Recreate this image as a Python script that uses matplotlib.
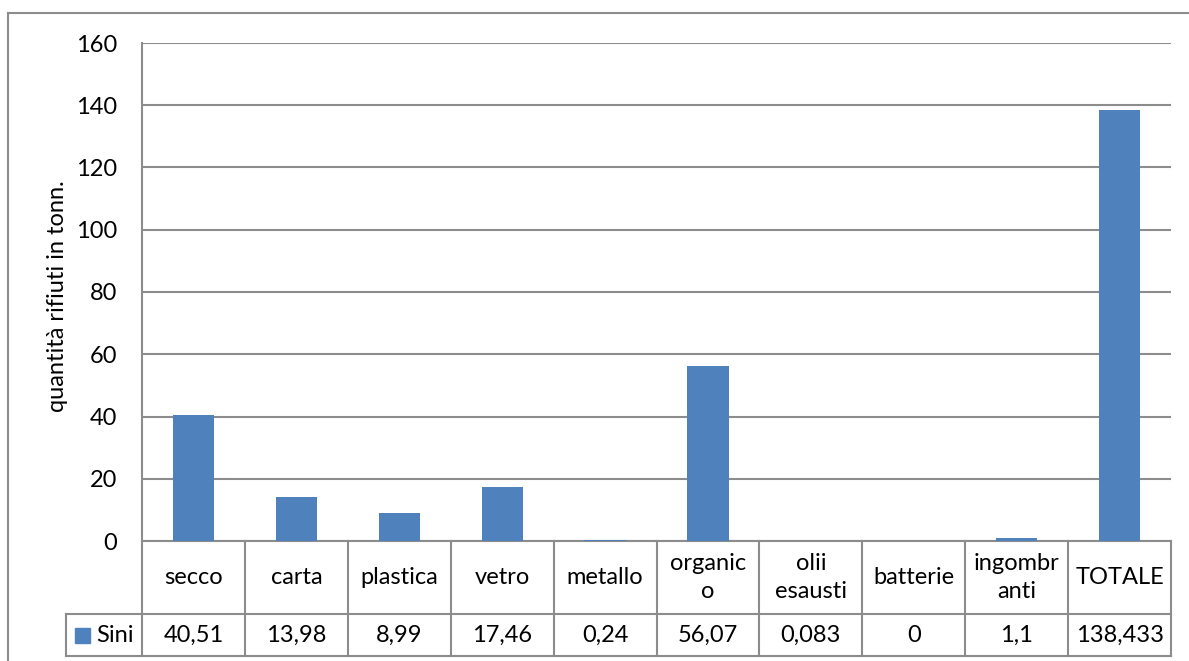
import matplotlib
matplotlib.use("Agg")
import matplotlib.pyplot as plt
from matplotlib.lines import Line2D
from matplotlib.patches import Rectangle
import matplotlib.transforms as mtransforms

categories = ["secco", "carta", "plastica", "vetro", "metallo", "organic\no",
              "olii\nesausti", "batterie", "ingombr\nanti", "TOTALE"]
values = [40.51, 13.98, 8.99, 17.46, 0.24, 56.07, 0.083, 0, 1.1, 138.433]
value_labels = ["40,51", "13,98", "8,99", "17,46", "0,24", "56,07", "0,083", "0", "1,1", "138,433"]
series_name = "Sini"
y_ticks = [0, 20, 40, 60, 80, 100, 120, 140, 160]
y_label = "quantità rifiuti in tonn."

BAR = "#4F81BD"
GRID = "#8C8C8C"
FONT = "Lato"
FS = 17
plt.rcParams["font.family"] = [FONT, "DejaVu Sans"]

W, H = 1189, 661
fig = plt.figure(figsize=(W / 100, H / 100), dpi=100)

left, right, top, bottom = 142, 1171, 43, 541
ax = fig.add_axes([left / W, 1 - bottom / H, (right - left) / W, (bottom - top) / H])
x = list(range(len(categories)))
ax.bar(x, values, width=0.4, color=BAR, zorder=3)
ax.set_xlim(-0.5, len(categories) - 0.5)
ax.set_ylim(0, 160)
ax.set_yticks(y_ticks)
ax.set_yticklabels([str(t) for t in y_ticks], fontsize=FS)
ax.tick_params(axis="y", length=0, pad=18)
ax.set_xticks([])
for t in y_ticks:
    ax.axhline(t, color=GRID, lw=1.5, zorder=1)
for s in ["top", "right", "bottom"]:
    ax.spines[s].set_visible(False)
ax.spines["left"].set_color(GRID)
ax.spines["left"].set_linewidth(1.5)

# data table below the axis
trans = mtransforms.blended_transform_factory(ax.transData, ax.transAxes)
ph = bottom - top
y0 = 0.0
y1 = -(614 - bottom) / ph
y2 = -(656 - bottom) / ph
cat_px = (right - left) / len(categories)
leg_left = -0.5 - (142 - 66) / cat_px
n = len(categories)

def hline(xa, xb, y):
    ax.add_line(Line2D([xa, xb], [y, y], transform=trans, color=GRID, lw=1.5, clip_on=False))

def vline(xv, ya, yb):
    ax.add_line(Line2D([xv, xv], [ya, yb], transform=trans, color=GRID, lw=1.5, clip_on=False))

hline(-0.5, n - 0.5, y0)
hline(leg_left, n - 0.5, y1)
hline(leg_left, n - 0.5, y2)
for i in range(n + 1):
    vline(i - 0.5, y0, y2)
vline(leg_left, y1, y2)

for i, (c, v) in enumerate(zip(categories, value_labels)):
    ax.text(i, (y0 + y1) / 2, c, transform=trans, ha="center", va="center",
            fontsize=FS, linespacing=1.45, clip_on=False)
    ax.text(i, (y1 + y2) / 2, v, transform=trans, ha="center", va="center",
            fontsize=FS, clip_on=False)

# legend key in table
ym = (y1 + y2) / 2
sq_w = 15 / cat_px
sq_h = 15 / ph
ax.add_patch(Rectangle((leg_left + 9 / cat_px, ym - sq_h / 2), sq_w, sq_h, transform=trans,
                       color=BAR, clip_on=False))
ax.text(leg_left + 30 / cat_px, ym, series_name, transform=trans, ha="left", va="center",
        fontsize=FS, clip_on=False)

fig.text(57 / W, 1 - 296 / H, y_label, rotation=90, ha="center", va="center", fontsize=17)

# outer chart frame
fig.add_artist(Line2D([8 / W, 1], [1 - 13 / H, 1 - 13 / H], transform=fig.transFigure, color=GRID, lw=1.5))
fig.add_artist(Line2D([8 / W, 8 / W], [1 - 13 / H, 0], transform=fig.transFigure, color=GRID, lw=1.5))

fig.savefig("out.png", dpi=100)
